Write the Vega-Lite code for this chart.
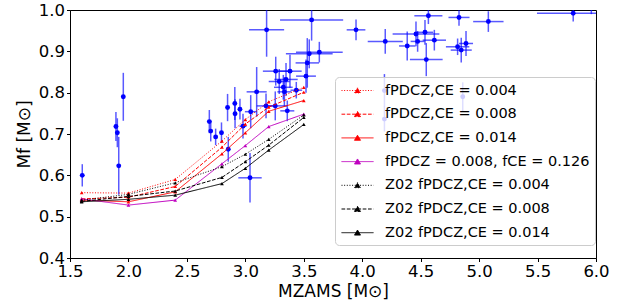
{
  "$schema": "https://vega.github.io/schema/vega-lite/v6.json",
  "width": 526,
  "height": 248,
  "autosize": {"type": "none"},
  "padding": {"left": 70, "top": 10, "right": 34, "bottom": 46},
  "background": "white",
  "config": {
    "font": "DejaVu Sans",
    "view": {"stroke": "black", "strokeWidth": 1},
    "axis": {
      "grid": false,
      "domainColor": "black",
      "tickColor": "black",
      "tickSize": 3.5,
      "labelColor": "black",
      "labelFontSize": 16.5,
      "labelFlush": false,
      "labelOverlap": false,
      "titleColor": "black",
      "titleFontSize": 17,
      "titleFontWeight": "normal"
    }
  },
  "datasets": {
    "obs": [
      {"x": 1.605, "xe": 0, "y": 0.600, "ye": 0.027},
      {"x": 1.956, "xe": 0, "y": 0.790, "ye": 0.058},
      {"x": 1.893, "xe": 0, "y": 0.718, "ye": 0.035},
      {"x": 1.905, "xe": 0, "y": 0.703, "ye": 0.035},
      {"x": 1.917, "xe": 0, "y": 0.623, "ye": 0.07},
      {"x": 2.692, "xe": 0, "y": 0.730, "ye": 0.028},
      {"x": 2.704, "xe": 0, "y": 0.707, "ye": 0.025},
      {"x": 2.746, "xe": 0, "y": 0.693, "ye": 0.02},
      {"x": 2.796, "xe": 0, "y": 0.703, "ye": 0.025},
      {"x": 2.848, "xe": 0, "y": 0.764, "ye": 0.033},
      {"x": 2.854, "xe": 0, "y": 0.663, "ye": 0.03},
      {"x": 2.910, "xe": 0, "y": 0.774, "ye": 0.04},
      {"x": 2.912, "xe": 0, "y": 0.749, "ye": 0.035},
      {"x": 2.954, "xe": 0, "y": 0.760, "ye": 0.025},
      {"x": 2.980, "xe": 0.03, "y": 0.719, "ye": 0.03},
      {"x": 3.046, "xe": 0.05, "y": 0.754, "ye": 0.04},
      {"x": 3.040, "xe": 0.1, "y": 0.594, "ye": 0.06},
      {"x": 3.097, "xe": 0.086, "y": 0.802, "ye": 0.06},
      {"x": 3.182, "xe": 0.15, "y": 0.952, "ye": 0.065},
      {"x": 3.177, "xe": 0.08, "y": 0.768, "ye": 0.03},
      {"x": 3.256, "xe": 0.1, "y": 0.768, "ye": 0.035},
      {"x": 3.260, "xe": 0.11, "y": 0.852, "ye": 0.035},
      {"x": 3.290, "xe": 0.09, "y": 0.827, "ye": 0.03},
      {"x": 3.348, "xe": 0.1, "y": 0.832, "ye": 0.04},
      {"x": 3.325, "xe": 0.08, "y": 0.813, "ye": 0.03},
      {"x": 3.334, "xe": 0.06, "y": 0.802, "ye": 0.035},
      {"x": 3.359, "xe": 0.06, "y": 0.756, "ye": 0.025},
      {"x": 3.382, "xe": 0.1, "y": 0.852, "ye": 0.04},
      {"x": 3.436, "xe": 0.05, "y": 0.806, "ye": 0.02},
      {"x": 3.519, "xe": 0.085, "y": 0.840, "ye": 0.04},
      {"x": 3.530, "xe": 0.1, "y": 0.872, "ye": 0.06},
      {"x": 3.547, "xe": 0.2, "y": 0.894, "ye": 0.035},
      {"x": 3.567, "xe": 0.27, "y": 0.976, "ye": 0.05},
      {"x": 3.633, "xe": 0.2, "y": 0.898, "ye": 0.025},
      {"x": 3.947, "xe": 0.08, "y": 0.952, "ye": 0.025},
      {"x": 4.197, "xe": 0.15, "y": 0.924, "ye": 0.03},
      {"x": 4.190, "xe": 0, "y": 0.805, "ye": 0.04},
      {"x": 4.190, "xe": 0, "y": 0.736, "ye": 0.03},
      {"x": 4.385, "xe": 0.07, "y": 0.913, "ye": 0.035},
      {"x": 4.460, "xe": 0.2, "y": 0.942, "ye": 0.03},
      {"x": 4.474, "xe": 0.06, "y": 0.924, "ye": 0.025},
      {"x": 4.537, "xe": 0.07, "y": 0.946, "ye": 0.03},
      {"x": 4.548, "xe": 0.14, "y": 0.880, "ye": 0.04},
      {"x": 4.566, "xe": 0.12, "y": 0.986, "ye": 0.02},
      {"x": 4.617, "xe": 0.1, "y": 0.927, "ye": 0.025},
      {"x": 4.828, "xe": 0.09, "y": 0.982, "ye": 0.02},
      {"x": 4.816, "xe": 0.1, "y": 0.911, "ye": 0.02},
      {"x": 4.847, "xe": 0.09, "y": 0.903, "ye": 0.03},
      {"x": 4.860, "xe": 0, "y": 0.790, "ye": 0.035},
      {"x": 4.888, "xe": 0.06, "y": 0.919, "ye": 0.03},
      {"x": 5.079, "xe": 0.13, "y": 0.972, "ye": 0.025},
      {"x": 5.805, "xe": 0.31, "y": 0.992, "ye": 0.02},
      {"x": 5.960, "xe": 0.1, "y": 1.005, "ye": 0.015}
    ],
    "models": [
      {"s": "fPDCZ,CE = 0.004", "x": 1.6, "y": 0.558},
      {"s": "fPDCZ,CE = 0.004", "x": 2.0, "y": 0.557},
      {"s": "fPDCZ,CE = 0.004", "x": 2.4, "y": 0.590},
      {"s": "fPDCZ,CE = 0.004", "x": 2.8, "y": 0.683},
      {"s": "fPDCZ,CE = 0.004", "x": 3.0, "y": 0.735},
      {"s": "fPDCZ,CE = 0.004", "x": 3.2, "y": 0.778},
      {"s": "fPDCZ,CE = 0.004", "x": 3.5, "y": 0.813},
      {"s": "fPDCZ,CE = 0.008", "x": 1.6, "y": 0.543},
      {"s": "fPDCZ,CE = 0.008", "x": 2.0, "y": 0.547},
      {"s": "fPDCZ,CE = 0.008", "x": 2.4, "y": 0.573},
      {"s": "fPDCZ,CE = 0.008", "x": 2.8, "y": 0.668},
      {"s": "fPDCZ,CE = 0.008", "x": 3.0, "y": 0.724},
      {"s": "fPDCZ,CE = 0.008", "x": 3.2, "y": 0.765},
      {"s": "fPDCZ,CE = 0.008", "x": 3.5, "y": 0.801},
      {"s": "fPDCZ,CE = 0.014", "x": 1.6, "y": 0.540},
      {"s": "fPDCZ,CE = 0.014", "x": 2.0, "y": 0.536},
      {"s": "fPDCZ,CE = 0.014", "x": 2.4, "y": 0.560},
      {"s": "fPDCZ,CE = 0.014", "x": 2.8, "y": 0.652},
      {"s": "fPDCZ,CE = 0.014", "x": 3.0, "y": 0.703},
      {"s": "fPDCZ,CE = 0.014", "x": 3.2, "y": 0.755},
      {"s": "fPDCZ,CE = 0.014", "x": 3.5, "y": 0.781},
      {"s": "fPDCZ = 0.008, fCE = 0.126", "x": 1.6, "y": 0.543},
      {"s": "fPDCZ = 0.008, fCE = 0.126", "x": 2.0, "y": 0.528},
      {"s": "fPDCZ = 0.008, fCE = 0.126", "x": 2.4, "y": 0.540},
      {"s": "fPDCZ = 0.008, fCE = 0.126", "x": 2.8, "y": 0.628},
      {"s": "fPDCZ = 0.008, fCE = 0.126", "x": 3.0, "y": 0.672},
      {"s": "fPDCZ = 0.008, fCE = 0.126", "x": 3.2, "y": 0.718},
      {"s": "fPDCZ = 0.008, fCE = 0.126", "x": 3.5, "y": 0.748},
      {"s": "Z02 fPDCZ,CE = 0.004", "x": 1.6, "y": 0.540},
      {"s": "Z02 fPDCZ,CE = 0.004", "x": 2.0, "y": 0.554},
      {"s": "Z02 fPDCZ,CE = 0.004", "x": 2.4, "y": 0.582},
      {"s": "Z02 fPDCZ,CE = 0.004", "x": 2.8, "y": 0.621},
      {"s": "Z02 fPDCZ,CE = 0.004", "x": 3.0, "y": 0.651},
      {"s": "Z02 fPDCZ,CE = 0.004", "x": 3.2, "y": 0.687},
      {"s": "Z02 fPDCZ,CE = 0.004", "x": 3.5, "y": 0.746},
      {"s": "Z02 fPDCZ,CE = 0.008", "x": 1.6, "y": 0.537},
      {"s": "Z02 fPDCZ,CE = 0.008", "x": 2.0, "y": 0.549},
      {"s": "Z02 fPDCZ,CE = 0.008", "x": 2.4, "y": 0.562},
      {"s": "Z02 fPDCZ,CE = 0.008", "x": 2.8, "y": 0.595},
      {"s": "Z02 fPDCZ,CE = 0.008", "x": 3.0, "y": 0.633},
      {"s": "Z02 fPDCZ,CE = 0.008", "x": 3.2, "y": 0.673},
      {"s": "Z02 fPDCZ,CE = 0.008", "x": 3.5, "y": 0.740},
      {"s": "Z02 fPDCZ,CE = 0.014", "x": 1.6, "y": 0.536},
      {"s": "Z02 fPDCZ,CE = 0.014", "x": 2.0, "y": 0.542},
      {"s": "Z02 fPDCZ,CE = 0.014", "x": 2.4, "y": 0.552},
      {"s": "Z02 fPDCZ,CE = 0.014", "x": 2.8, "y": 0.580},
      {"s": "Z02 fPDCZ,CE = 0.014", "x": 3.0, "y": 0.617},
      {"s": "Z02 fPDCZ,CE = 0.014", "x": 3.2, "y": 0.661},
      {"s": "Z02 fPDCZ,CE = 0.014", "x": 3.5, "y": 0.723}
    ]
  },
  "layer": [
    {
      "data": {"name": "obs"},
      "mark": {"type": "errorbar", "color": "#0000ff", "opacity": 0.65, "thickness": 1.5, "clip": true},
      "encoding": {
        "x": {"field": "x", "type": "quantitative", "title": "MZAMS [M⊙]", "scale": {"domain": [1.5, 6.0], "nice": false, "zero": false}},
        "xError": {"field": "xe"},
        "y": {"field": "y", "type": "quantitative", "title": "Mf [M⊙]", "scale": {"domain": [0.4, 1.0], "nice": false, "zero": false}}
      }
    },
    {
      "data": {"name": "obs"},
      "mark": {"type": "errorbar", "color": "#0000ff", "opacity": 0.65, "thickness": 1.5, "clip": true},
      "encoding": {
        "x": {"field": "x", "type": "quantitative", "title": "MZAMS [M⊙]"},
        "y": {"field": "y", "type": "quantitative", "title": "Mf [M⊙]"},
        "yError": {"field": "ye"}
      }
    },
    {
      "data": {"name": "obs"},
      "mark": {"type": "point", "shape": "circle", "filled": true, "color": "#0000ff", "opacity": 1, "size": 24, "clip": true},
      "encoding": {
        "x": {"field": "x", "type": "quantitative", "title": "MZAMS [M⊙]"},
        "y": {"field": "y", "type": "quantitative", "title": "Mf [M⊙]"}
      }
    },
    {
      "data": {"name": "models"},
      "mark": {"type": "line", "strokeWidth": 1, "clip": true},
      "encoding": {
        "x": {"field": "x", "type": "quantitative", "title": "MZAMS [M⊙]", "axis": {"values": [1.5, 2.0, 2.5, 3.0, 3.5, 4.0, 4.5, 5.0, 5.5, 6.0], "format": ".1f", "labelPadding": 2, "titlePadding": 3}},
        "y": {"field": "y", "type": "quantitative", "title": "Mf [M⊙]", "axis": {"values": [0.4, 0.5, 0.6, 0.7, 0.8, 0.9, 1.0], "format": ".1f", "labelPadding": 2, "titlePadding": 5}},
        "color": {
          "field": "s", "type": "nominal",
          "scale": {
            "domain": ["fPDCZ,CE = 0.004", "fPDCZ,CE = 0.008", "fPDCZ,CE = 0.014", "fPDCZ = 0.008, fCE = 0.126", "Z02 fPDCZ,CE = 0.004", "Z02 fPDCZ,CE = 0.008", "Z02 fPDCZ,CE = 0.014"],
            "range": ["#ff0000", "#ff0000", "#ff0000", "#bf00bf", "#000000", "#000000", "#000000"]
          },
          "legend": {
            "title": null,
            "orient": "none",
            "legendX": 265,
            "legendY": 67,
            "fillColor": "rgba(255,255,255,0.8)",
            "strokeColor": "#cccccc",
            "cornerRadius": 4,
            "padding": 5,
            "labelFontSize": 14.5,
            "labelColor": "black",
            "labelLimit": 400,
            "rowPadding": 8.7,
            "symbolType": "M-2,0H2M-0.375,0.3L0,-0.33L0.375,0.3Z",
            "symbolSize": 256,
            "symbolStrokeWidth": 1,
            "symbolOffset": 9,
            "labelOffset": 19,
            "encode": {"symbols": {"update": {"fill": {"scale": "color", "field": "value"}}}}
          }
        },
        "strokeDash": {
          "field": "s", "type": "nominal",
          "scale": {
            "domain": ["fPDCZ,CE = 0.004", "fPDCZ,CE = 0.008", "fPDCZ,CE = 0.014", "fPDCZ = 0.008, fCE = 0.126", "Z02 fPDCZ,CE = 0.004", "Z02 fPDCZ,CE = 0.008", "Z02 fPDCZ,CE = 0.014"],
            "range": [[1, 1.65], [3.7, 1.6], [1, 0], [1, 0], [1, 1.65], [3.7, 1.6], [1, 0]]
          }
        }
      }
    },
    {
      "data": {"name": "models"},
      "mark": {"type": "point", "shape": "triangle-up", "filled": true, "opacity": 1, "size": 14, "clip": true},
      "encoding": {
        "x": {"field": "x", "type": "quantitative", "title": "MZAMS [M⊙]"},
        "y": {"field": "y", "type": "quantitative", "title": "Mf [M⊙]"},
        "color": {"field": "s", "type": "nominal", "legend": null}
      }
    }
  ]
}
